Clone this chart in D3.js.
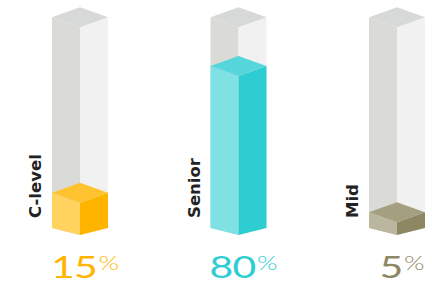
<!DOCTYPE html>
<html><head><meta charset="utf-8">
<script src="https://cdn.jsdelivr.net/npm/d3@7"></script>
<style>html,body{margin:0;padding:0;background:#fff;}svg{display:block;}</style>
</head><body>
<script>
const categories = ["C-level", "Senior", "Mid"];
const values = [15, 80, 5];
const maxValue = 100;

const leftColors = ["#ffd35e", "#80e1e4", "#bab79e"];
const rightColors = ["#ffb500", "#2ecdd2", "#8d8764"];
const topColors = ["#ffc330", "#55d6da", "#a39f80"];
const textColors = ["#ffb500", "#2ecdd2", "#8d8764"];

const W = 432, H = 284;
const svg = d3.select("body").append("svg").attr("width", W).attr("height", H);

const x = d3.scalePoint().domain(categories).range([80, 397]);
const y = d3.scaleLinear().domain([0, maxValue]).range([222, 27]);
const half = 28, dTop = 10, dBot = 7, base = 228;
const colTop = y(105);

function faces(cx, t) {
  return {
    left: [[cx - half, t], [cx, t + dTop], [cx, base + dBot], [cx - half, base]],
    right: [[cx, t + dTop], [cx + half, t], [cx + half, base], [cx, base + dBot]],
    top: [[cx - half, t], [cx, t - dTop], [cx + half, t], [cx, t + dTop]]
  };
}
const line = d3.line();
const sx = 1.32;

categories.forEach((c, i) => {
  const cx = x(c);
  const g = svg.append("g");
  const bg = faces(cx, colTop);
  g.append("path").attr("d", line(bg.left) + "Z").attr("fill", "#dadad6");
  g.append("path").attr("d", line(bg.right) + "Z").attr("fill", "#f1f1f1");
  g.append("path").attr("d", line(bg.top) + "Z").attr("fill", "#d7d8d8");
  const f = faces(cx, y(values[i]));
  g.append("path").attr("d", line(f.left) + "Z").attr("fill", leftColors[i]);
  g.append("path").attr("d", line(f.right) + "Z").attr("fill", rightColors[i]);
  g.append("path").attr("d", line(f.top) + "Z").attr("fill", topColors[i]);

  svg.append("text")
    .attr("transform", `translate(${cx - half - 11},218) rotate(-90)`)
    .attr("text-anchor", "start")
    .attr("font-family", "DejaVu Sans, sans-serif")
    .attr("font-weight", "bold")
    .attr("font-size", 16.5)
    .attr("fill", "#222")
    .text(c);

  const outer = svg.append("g");
  const inner = outer.append("g").attr("transform", `scale(${sx},1)`);
  const num = inner.append("text")
    .attr("x", 0).attr("y", 0)
    .attr("font-family", "Lato, sans-serif")
    .attr("font-weight", 400)
    .attr("font-size", 31)
    .attr("letter-spacing", -0.5)
    .attr("fill", textColors[i])
    .text(values[i]);
  const nw = num.node().getComputedTextLength();
  inner.append("text")
    .attr("x", nw + 1).attr("y", -8)
    .attr("font-family", "Lato, sans-serif")
    .attr("font-weight", 300)
    .attr("font-size", 20)
    .attr("fill", textColors[i])
    .text("%");
  const bb = inner.node().getBBox();
  const tw = bb.width * sx;
  outer.attr("transform", `translate(${cx + 5 - tw / 2 - bb.x * sx},278)`);
});
</script>
</body></html>
